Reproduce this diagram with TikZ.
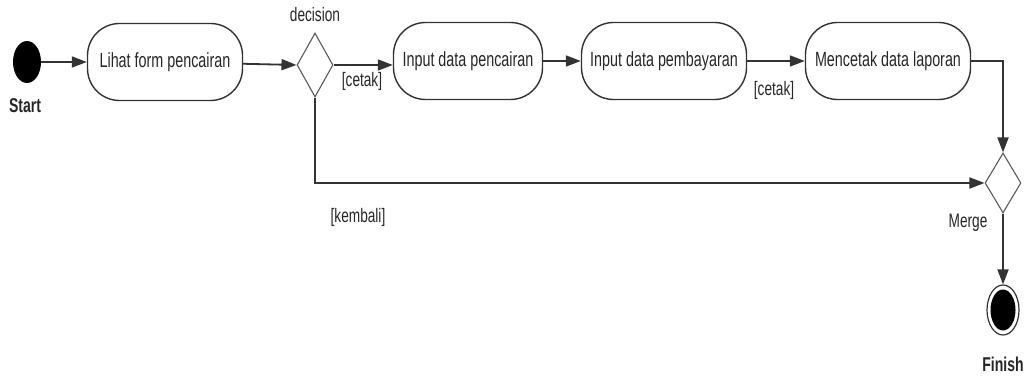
\documentclass[tikz,border=0pt]{standalone}
\usepackage{fontspec}
\setmainfont{Liberation Sans}[FakeStretch=0.70]
\usetikzlibrary{shapes.geometric,arrows.meta}
\begin{document}
\begin{tikzpicture}[x=1pt,y=-1pt,
  every node/.style={font=\fontsize{20.5}{24}\selectfont, text=black!85},
  activity/.style={draw=black!80, line width=1.4pt, rounded corners=32pt, minimum height=77pt, inner sep=0pt},
  choice/.style={diamond, draw=black!65, line width=1.1pt, inner sep=0pt, minimum width=36pt, minimum height=64pt, aspect=0.55},
  flow/.style={draw=black!80, line width=1.8pt, -{Triangle[length=15pt,width=11pt]}},
  guard/.style={font=\fontsize{19.5}{22}\selectfont},
  caption/.style={font=\fontsize{20}{22}\selectfont\bfseries}]
\useasboundingbox (0,0) rectangle (1024,379);
% initial and final states
\node (start) [ellipse, fill=black, minimum width=28pt, minimum height=42pt, inner sep=0pt] at (27,62) {};
\node [caption] at (25,106) {Start};
\node (finish) [ellipse, draw=black!80, line width=1.2pt, minimum width=32pt, minimum height=50pt, inner sep=0pt] at (1003,310) {};
\node [ellipse, fill=black, minimum width=25pt, minimum height=41pt, inner sep=0pt] at (finish.center) {};
\node [caption] at (1003,364) {Finish};
% activities
\node (lihat) [activity, minimum width=155pt] at (165,62) {Lihat form pencairan};
\node (input1) [activity, minimum width=149pt] at (468,61) {Input data pencairan};
\node (input2) [activity, minimum width=165pt] at (664,61) {Input data pembayaran};
\node (cetak) [activity, minimum width=165pt] at (888,61) {Mencetak data laporan};
% decision and merge
\node (dec) [choice] at (315,65) {};
\node [guard] at (315,15) {decision};
\node (merge) [choice, minimum height=60pt] at (1003,183) {};
\node [guard] at (968,223) {Merge};
% flows
\draw [flow] (start) -- (lihat);
\draw [flow] (lihat) -- (dec.west);
\draw [flow] (dec.east) -- (input1.west |- dec.east);
\node [guard] at (362,81) {[cetak]};
\draw [flow] (input1) -- (input2);
\draw [flow] (input2) -- (cetak);
\node [guard] at (774,90) {[cetak]};
\draw [flow] (cetak.east) -- (merge.north |- cetak.east) -- (merge.north);
\draw [flow] (dec.south) |- (merge.west);
\node [guard] at (358,217) {[kembali]};
\draw [flow] (merge.south) -- (finish.north);
\end{tikzpicture}
\end{document}
